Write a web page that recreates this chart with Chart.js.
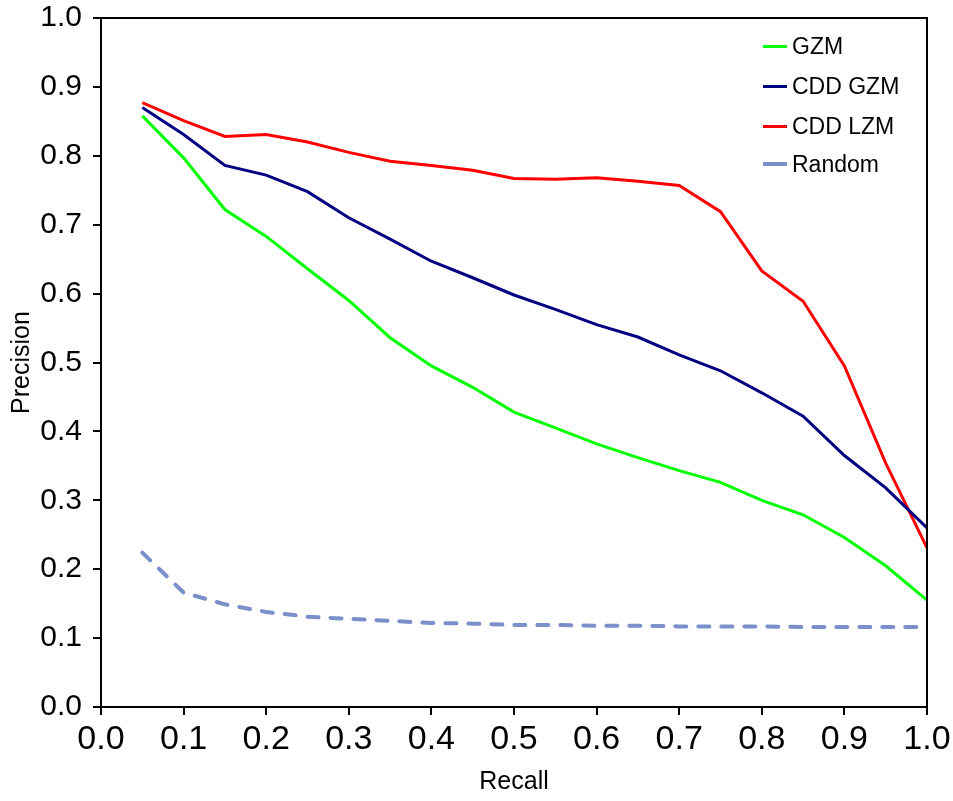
<!DOCTYPE html>
<html>
<head>
<meta charset="utf-8">
<script src="https://cdn.jsdelivr.net/npm/chart.js@4.4.1/dist/chart.umd.min.js"></script>
<style>
  html, body { margin: 0; padding: 0; background: #fff; }
  #wrap { position: relative; width: 953px; height: 801px; }
  #legend {
    position: absolute; left: 763px; top: 26px;
    font-family: "Liberation Sans", Arial, sans-serif; font-size: 23px; color: #000;
  }
  .legend-item { display: flex; align-items: center; height: 40px; }
  .legend-item:last-child { height: 36px; }
  .legend-line { width: 24px; height: 0; margin-right: 5px; border-top-style: solid; }
</style>
</head>
<body>
<div id="wrap">
  <canvas id="chart-pr" width="953" height="801"></canvas>
  <div id="legend"></div>
</div>
<script>
// Precision / recall curves
const recall = [0.05, 0.10, 0.15, 0.20, 0.25, 0.30, 0.35, 0.40, 0.45, 0.50,
                0.55, 0.60, 0.65, 0.70, 0.75, 0.80, 0.85, 0.90, 0.95, 1.00];

const gzm = [0.858, 0.797, 0.722, 0.683, 0.636, 0.590, 0.536, 0.495, 0.464, 0.428,
             0.405, 0.382, 0.362, 0.343, 0.326, 0.300, 0.279, 0.246, 0.205, 0.155];

const cddGzm = [0.870, 0.831, 0.786, 0.772, 0.748, 0.710, 0.679, 0.647, 0.623, 0.598,
                0.577, 0.555, 0.537, 0.511, 0.488, 0.456, 0.422, 0.365, 0.318, 0.260];

const cddLzm = [0.877, 0.851, 0.828, 0.831, 0.820, 0.805, 0.792, 0.786, 0.779, 0.767,
                0.766, 0.768, 0.763, 0.757, 0.719, 0.633, 0.589, 0.495, 0.354, 0.231];

const random = [0.224, 0.166, 0.149, 0.138, 0.131, 0.128, 0.125, 0.122, 0.121, 0.119,
                0.119, 0.118, 0.118, 0.117, 0.117, 0.117, 0.116, 0.116, 0.116, 0.116];

const seriesNames = ["GZM", "CDD GZM", "CDD LZM", "Random"];
const xTickLabels = ["0.0", "0.1", "0.2", "0.3", "0.4", "0.5", "0.6", "0.7", "0.8", "0.9", "1.0"];
const yTickLabels = ["0.0", "0.1", "0.2", "0.3", "0.4", "0.5", "0.6", "0.7", "0.8", "0.9", "1.0"];

const FONT = "'Liberation Sans', Arial, sans-serif";

function toPoints(values) {
  return values.map((v, i) => ({ x: recall[i], y: v }));
}

// black frame round the plot area
const framePlugin = {
  id: "frame",
  afterDraw(chart) {
    const { ctx, chartArea: a } = chart;
    ctx.save();
    ctx.strokeStyle = "#000";
    ctx.lineWidth = 2;
    ctx.strokeRect(a.left, a.top, a.right - a.left, a.bottom - a.top);
    ctx.restore();
  }
};

const ctx = document.getElementById("chart-pr").getContext("2d");

const chart = new Chart(ctx, {
  type: "line",
  data: {
    datasets: [
      { label: seriesNames[0], data: toPoints(gzm), borderColor: "#00ff00", borderWidth: 3 },
      { label: seriesNames[1], data: toPoints(cddGzm), borderColor: "#000080", borderWidth: 3 },
      { label: seriesNames[2], data: toPoints(cddLzm), borderColor: "#ff0000", borderWidth: 3 },
      {
        label: seriesNames[3], data: toPoints(random), borderColor: "#7b8fcb", borderWidth: 4,
        borderDash: [11, 12], borderCapStyle: "round"
      }
    ]
  },
  options: {
    responsive: false,
    animation: false,
    events: [],
    layout: { padding: { top: 18, right: 26, left: 0, bottom: 0 } },
    elements: {
      point: { radius: 0 },
      line: { tension: 0, fill: false }
    },
    plugins: {
      legend: { display: false },
      tooltip: { enabled: false }
    },
    scales: {
      x: {
        type: "linear",
        min: 0,
        max: 1,
        afterFit(scale) {
          scale.height = 94;
          scale.paddingLeft = 0;
          scale.paddingRight = 0;
        },
        grid: { drawOnChartArea: false, drawTicks: true, tickLength: 8, color: "#000", lineWidth: 2 },
        border: { display: true, color: "#000", width: 2 },
        ticks: {
          stepSize: 0.1,
          color: "#000",
          padding: 4,
          maxRotation: 0,
          font: { family: FONT, size: 34 },
          callback: (v) => xTickLabels[Math.round(v * 10)]
        },
        title: {
          display: true,
          text: "Recall",
          color: "#000",
          padding: { top: 0, bottom: 4 },
          font: { family: FONT, size: 25 }
        }
      },
      y: {
        type: "linear",
        min: 0,
        max: 1,
        afterFit(scale) {
          scale.width = 101;
          scale.paddingTop = 0;
          scale.paddingBottom = 0;
        },
        grid: { drawOnChartArea: false, drawTicks: true, tickLength: 8, color: "#000", lineWidth: 2 },
        border: { display: true, color: "#000", width: 2 },
        ticks: {
          stepSize: 0.1,
          color: "#000",
          padding: 11,
          font: { family: FONT, size: 30 },
          callback: (v) => yTickLabels[Math.round(v * 10)]
        },
        title: {
          display: true,
          text: "Precision",
          color: "#000",
          padding: { top: 7, bottom: 0 },
          font: { family: FONT, size: 25 }
        }
      }
    }
  },
  plugins: [framePlugin]
});

// legend inside the top right corner of the plot
function renderLegend(chart) {
  const box = document.getElementById("legend");
  box.innerHTML = "";
  chart.data.datasets.forEach(ds => {
    const item = document.createElement("div");
    item.className = "legend-item";
    const line = document.createElement("span");
    line.className = "legend-line";
    line.style.borderTopColor = ds.borderColor;
    line.style.borderTopWidth = ds.borderDash ? "4px" : "3px";
    const text = document.createElement("span");
    text.textContent = ds.label;
    item.appendChild(line);
    item.appendChild(text);
    box.appendChild(item);
  });
}

renderLegend(chart);
</script>
</body>
</html>
